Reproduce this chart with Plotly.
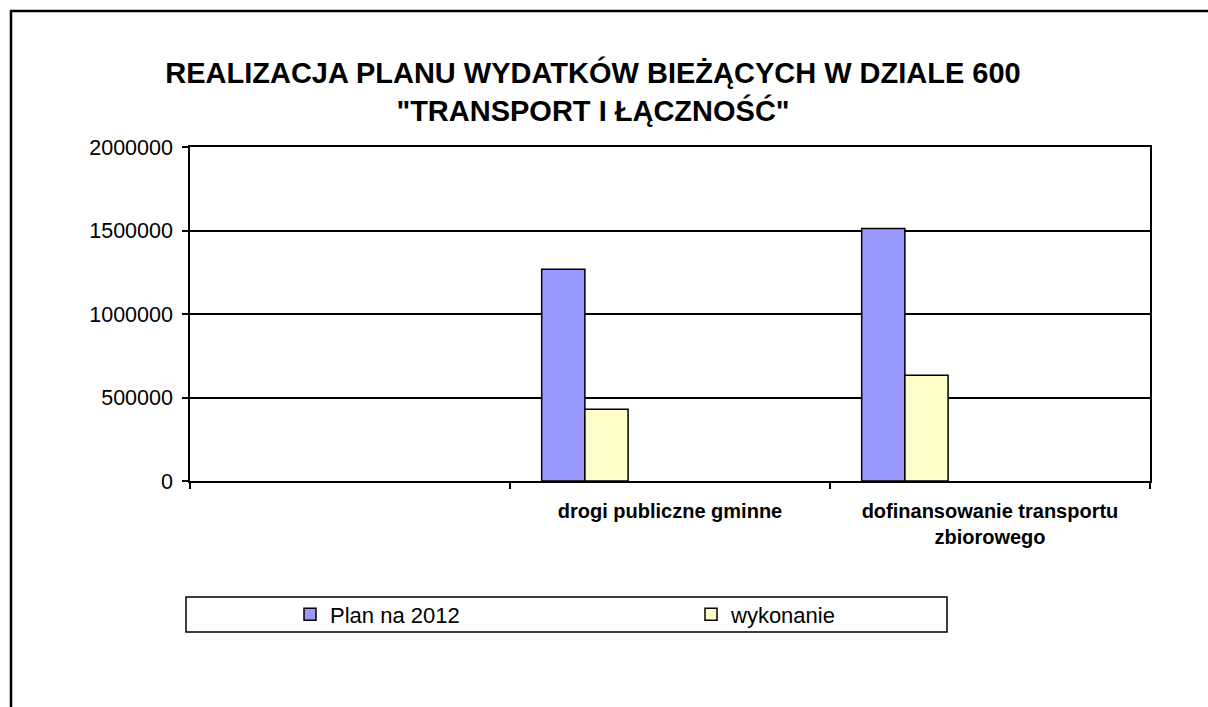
import plotly.graph_objects as go

categories = [" ", "drogi publiczne gminne", "dofinansowanie transportu<br>zbiorowego"]
plan_2012 = [None, 1268000, 1512000]
wykonanie = [None, 430000, 633000]
series_names = ["Plan na 2012", "wykonanie"]
y_ticks = [0, 500000, 1000000, 1500000, 2000000]

W, H = 1208, 707
L, R, T, B = 190, 58, 147, 226
pw, ph = W - L - R, H - T - B
FONT = "Liberation Sans, Arial, sans-serif"

def px_x(x):
    return (x - L) / pw

def px_y(y):
    return (H - B - y) / ph

fig = go.Figure()
bar_w = 0.135
fig.add_trace(go.Bar(x=categories, y=plan_2012, name=series_names[0],
                     marker=dict(color="#9999FF", line=dict(color="#000000", width=1.5)),
                     width=bar_w, offset=-0.401))
fig.add_trace(go.Bar(x=categories, y=wykonanie, name=series_names[1],
                     marker=dict(color="#FFFFCC", line=dict(color="#000000", width=1.5)),
                     width=bar_w, offset=-0.401 + bar_w))

fig.update_layout(
    width=W, height=H,
    margin=dict(l=L, r=R, t=T, b=B, pad=0),
    paper_bgcolor="white", plot_bgcolor="white",
    barmode="overlay",
    font=dict(family=FONT, color="#000000"),
    title=dict(text="<b>REALIZACJA PLANU WYDATKÓW BIEŻĄCYCH W DZIALE 600<br>\"TRANSPORT I ŁĄCZNOŚĆ\"</b>",
               x=593 / W, xanchor="center", y=1 - 83 / H, yanchor="top",
               font=dict(size=29, family=FONT)),
    showlegend=True,
    legend=dict(orientation="h", x=px_x(290), xanchor="left", y=px_y(614.5), yanchor="middle",
                bgcolor="rgba(0,0,0,0)", borderwidth=0,
                font=dict(size=22), entrywidth=356, entrywidthmode="pixels",
                traceorder="normal"),
    shapes=[
        dict(type="rect", xref="paper", yref="paper",
             x0=px_x(186), x1=px_x(947), y0=px_y(632), y1=px_y(597),
             line=dict(color="#000000", width=1.5), fillcolor="rgba(0,0,0,0)"),
        dict(type="rect", xref="paper", yref="paper",
             x0=px_x(11), x1=px_x(1300), y0=px_y(800), y1=px_y(11),
             line=dict(color="#000000", width=2.5), fillcolor="rgba(0,0,0,0)", layer="below"),
    ],
)

fig.update_xaxes(
    type="category", categoryorder="array", categoryarray=categories,
    range=[-0.5, 2.5], tickson="boundaries",
    ticks="outside", ticklen=6, tickcolor="#000000", tickwidth=1.5,
    showline=True, linecolor="#000000", linewidth=1.5, mirror=True,
    showgrid=False, tickangle=0, ticklabelstandoff=11,
    tickfont=dict(size=20, family=FONT, weight="bold"),
)
fig.update_yaxes(
    range=[0, 2000000], tickvals=y_ticks, ticktext=[str(v) for v in y_ticks],
    ticks="outside", ticklen=6, tickcolor="#000000", tickwidth=1.5,
    showline=True, linecolor="#000000", linewidth=1.5, mirror=True,
    showgrid=True, gridcolor="#000000", gridwidth=1.5,
    zeroline=False, tickfont=dict(size=21.5), ticklabelstandoff=5,
)

fig.write_html("out.html", config={"displayModeBar": False},
               post_script="document.body.style.margin='0';document.documentElement.style.overflow='hidden';")
